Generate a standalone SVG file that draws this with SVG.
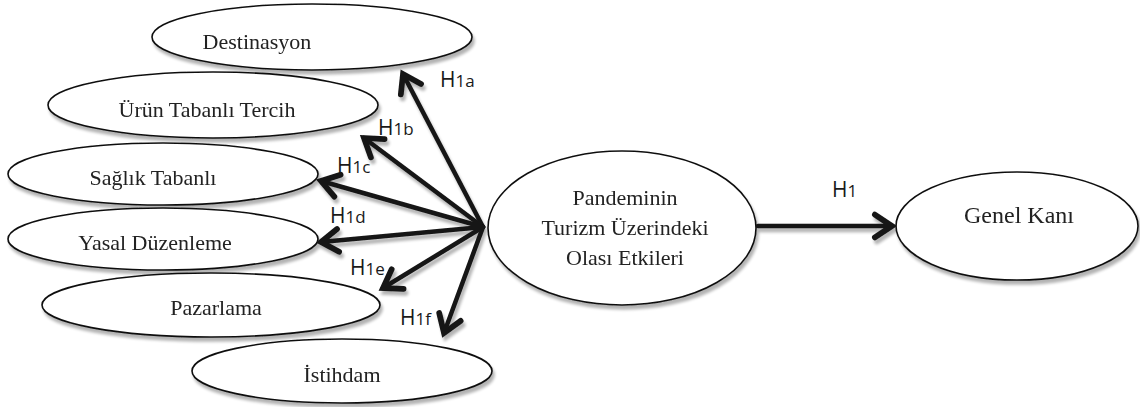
<svg xmlns="http://www.w3.org/2000/svg" width="1140" height="407" viewBox="0 0 1140 407">
<style>
.node ellipse{fill:#fff;stroke:#111;stroke-width:1.6}
.node text{font-family:"Liberation Serif","Times New Roman",serif;font-size:22px;fill:#222;text-anchor:middle}
.conn line{stroke:#151515;stroke-width:4.5;stroke-linecap:round}
.lbl{font-family:"Open Sans","Liberation Sans",sans-serif;font-size:21px;fill:#1a1a1a}
.lbl tspan{font-size:17px}
</style>
<defs>
<filter id="sh" x="-10%" y="-10%" width="130%" height="140%">
<feGaussianBlur in="SourceAlpha" stdDeviation="1.5"/>
<feOffset dx="2" dy="4" result="b"/>
<feComponentTransfer><feFuncA type="linear" slope="0.3"/></feComponentTransfer>
<feMerge><feMergeNode/><feMergeNode in="SourceGraphic"/></feMerge>
</filter>
<marker id="ah" markerUnits="userSpaceOnUse" markerWidth="32" markerHeight="32" viewBox="-22 -14 28 28" refX="0" refY="0" orient="auto">
<path d="M-15,-10 L0,0 L-15,10" fill="none" stroke="#151515" stroke-width="5" stroke-linecap="round" stroke-linejoin="miter"/>
</marker>
</defs>
<g filter="url(#sh)">
<g id="n-destinasyon" class="node"><ellipse cx="312" cy="37" rx="160" ry="33"/><text x="257" y="49">Destinasyon</text></g>
<g id="n-urun" class="node"><ellipse cx="213" cy="105" rx="165" ry="33"/><text x="207" y="117">Ürün Tabanlı Tercih</text></g>
<g id="n-saglik" class="node"><ellipse cx="163" cy="174" rx="155" ry="31"/><text x="153" y="185">Sağlık Tabanlı</text></g>
<g id="n-yasal" class="node"><ellipse cx="163" cy="239" rx="155" ry="31"/><text x="155" y="250">Yasal Düzenleme</text></g>
<g id="n-pazarlama" class="node"><ellipse cx="211" cy="305" rx="169" ry="32"/><text x="216" y="315">Pazarlama</text></g>
<g id="n-istihdam" class="node"><ellipse cx="342" cy="371" rx="150" ry="32"/><text x="342" y="382">İstihdam</text></g>
<g id="n-pandemi" class="node"><ellipse cx="622" cy="228" rx="134" ry="77"/><text x="625" y="205">Pandeminin</text><text x="625" y="235">Turizm Üzerindeki</text><text x="625" y="265">Olası Etkileri</text></g>
<g id="n-genel" class="node"><ellipse cx="1017" cy="226" rx="121" ry="54"/><text x="1019" y="223" style="font-size:24px">Genel Kanı</text></g>
<g id="connectors" class="conn">
<line x1="483" y1="227" x2="403" y2="74" marker-end="url(#ah)"/>
<line x1="483" y1="227" x2="364" y2="138" marker-end="url(#ah)"/>
<line x1="483" y1="227" x2="321" y2="181" marker-end="url(#ah)"/>
<line x1="483" y1="227" x2="321" y2="242" marker-end="url(#ah)"/>
<line x1="483" y1="227" x2="383" y2="288" marker-end="url(#ah)"/>
<line x1="483" y1="227" x2="444" y2="333" marker-end="url(#ah)"/>
<line x1="758" y1="226" x2="892" y2="226" marker-end="url(#ah)"/>
</g>
</g>
<g id="labels">
<text class="lbl" x="440" y="87">H<tspan>1a</tspan></text>
<text class="lbl" x="378" y="135">H<tspan>1b</tspan></text>
<text class="lbl" x="337" y="173">H<tspan>1c</tspan></text>
<text class="lbl" x="330" y="223">H<tspan>1d</tspan></text>
<text class="lbl" x="350" y="275">H<tspan>1e</tspan></text>
<text class="lbl" x="400" y="325">H<tspan>1f</tspan></text>
<text class="lbl" x="832" y="197">H<tspan>1</tspan></text>
</g>
</svg>
